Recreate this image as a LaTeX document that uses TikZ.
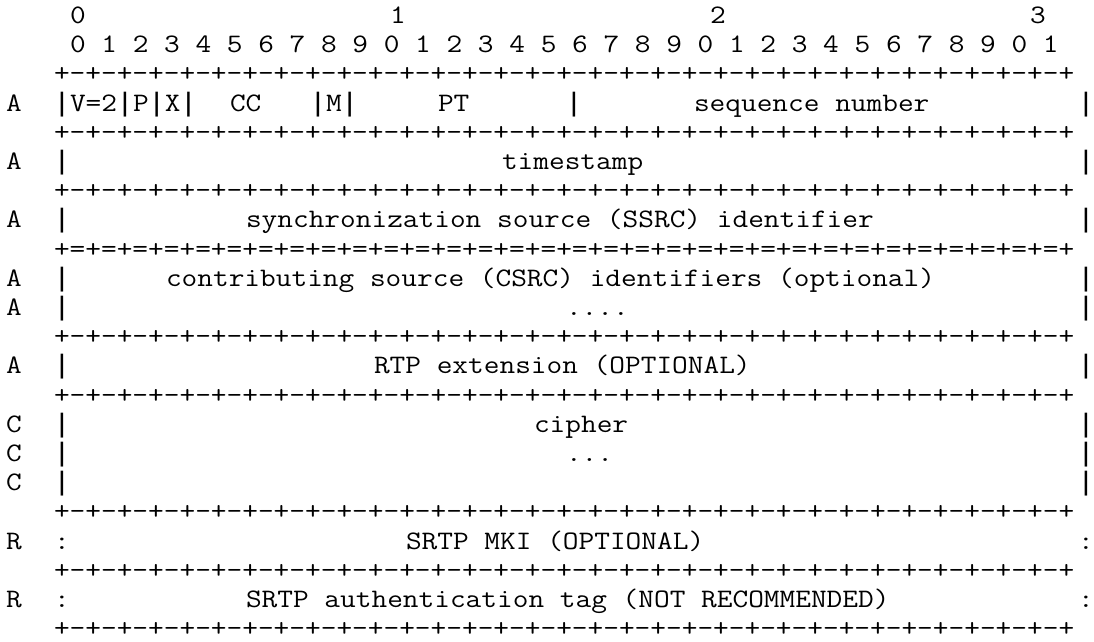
\documentclass[tikz,border=0pt]{standalone}
\usepackage{fontspec}
\newfontfamily\barfont{Liberation Mono}
\newcommand\vb{\makebox[0.525em][c]{\barfont|}}
\tikzset{
  seg/.style={anchor=base west, inner sep=0pt, outer sep=0pt, xscale=1.14271, transform shape,
    font=\fontsize{26.67}{30}\selectfont\ttfamily\frenchspacing, text=black}
}
\newcommand\seg[4]{\node[seg] (#1) at ({6+16*(#3)},{-(23.5+29.2*(#2-1))}) {#4};}
\newcommand\dashrule{+-+-+-+-+-+-+-+-+-+-+-+-+-+-+-+-+-+-+-+-+-+-+-+-+-+-+-+-+-+-+-+-+}
\newcommand\eqrule{+=+=+=+=+=+=+=+=+=+=+=+=+=+=+=+=+=+=+=+=+=+=+=+=+=+=+=+=+=+=+=+=+}
\begin{document}
\begin{tikzpicture}[x=1pt,y=1pt]
\useasboundingbox (0,0) rectangle (1094,-641);
\fill[white] (0,0) rectangle (1094,-641);
% header
\seg{h0}{1}{4}{0}
\seg{h1}{1}{24}{1}
\seg{h2}{1}{44}{2}
\seg{h3}{1}{64}{3}
\seg{bits}{2}{4}{0 1 2 3 4 5 6 7 8 9 0 1 2 3 4 5 6 7 8 9 0 1 2 3 4 5 6 7 8 9 0 1}
\seg{r3}{3}{3}{\dashrule}
% row 4
\seg{l4}{4}{0}{A}
\seg{v4}{4}{3}{\vb V=2\vb P\vb X\vb}
\seg{cc}{4}{14}{CC}
\seg{m4}{4}{19}{\vb M\vb}
\seg{pt}{4}{27}{PT}
\seg{b4}{4}{35}{\vb}
\seg{seq}{4}{43}{sequence number}
\seg{e4}{4}{67}{\vb}
\seg{r5}{5}{3}{\dashrule}
% row 6
\seg{l6}{6}{0}{A}
\seg{s6}{6}{3}{\vb}
\seg{ts}{6}{31}{timestamp}
\seg{e6}{6}{67}{\vb}
\seg{r7}{7}{3}{\dashrule}
% row 8
\seg{l8}{8}{0}{A}
\seg{s8}{8}{3}{\vb}
\seg{ssrc}{8}{15}{synchronization source (SSRC) identifier}
\seg{e8}{8}{67}{\vb}
\seg{r9}{9}{3}{\eqrule}
% row 10-11
\seg{l10}{10}{0}{A}
\seg{s10}{10}{3}{\vb}
\seg{csrc}{10}{10}{contributing source (CSRC) identifiers (optional)}
\seg{e10}{10}{67}{\vb}
\seg{l11}{11}{0}{A}
\seg{s11}{11}{3}{\vb}
\seg{dots11}{11}{35}{....}
\seg{e11}{11}{67}{\vb}
\seg{r12}{12}{3}{\dashrule}
% row 13
\seg{l13}{13}{0}{A}
\seg{s13}{13}{3}{\vb}
\seg{ext}{13}{23}{RTP extension (OPTIONAL)}
\seg{e13}{13}{67}{\vb}
\seg{r14}{14}{3}{\dashrule}
% rows 15-17
\seg{l15}{15}{0}{C}
\seg{s15}{15}{3}{\vb}
\seg{ciph}{15}{33}{cipher}
\seg{e15}{15}{67}{\vb}
\seg{l16}{16}{0}{C}
\seg{s16}{16}{3}{\vb}
\seg{dots16}{16}{35}{...}
\seg{e16}{16}{67}{\vb}
\seg{l17}{17}{0}{C}
\seg{s17}{17}{3}{\vb}
\seg{e17}{17}{67}{\vb}
\seg{r18}{18}{3}{\dashrule}
% row 19
\seg{l19}{19}{0}{R}
\seg{s19}{19}{3}{:}
\seg{mki}{19}{25}{SRTP MKI (OPTIONAL)}
\seg{e19}{19}{67}{:}
\seg{r20}{20}{3}{\dashrule}
% row 21
\seg{l21}{21}{0}{R}
\seg{s21}{21}{3}{:}
\seg{auth}{21}{15}{SRTP authentication tag (NOT RECOMMENDED)}
\seg{e21}{21}{67}{:}
\seg{r22}{22}{3}{\dashrule}
\end{tikzpicture}
\end{document}
